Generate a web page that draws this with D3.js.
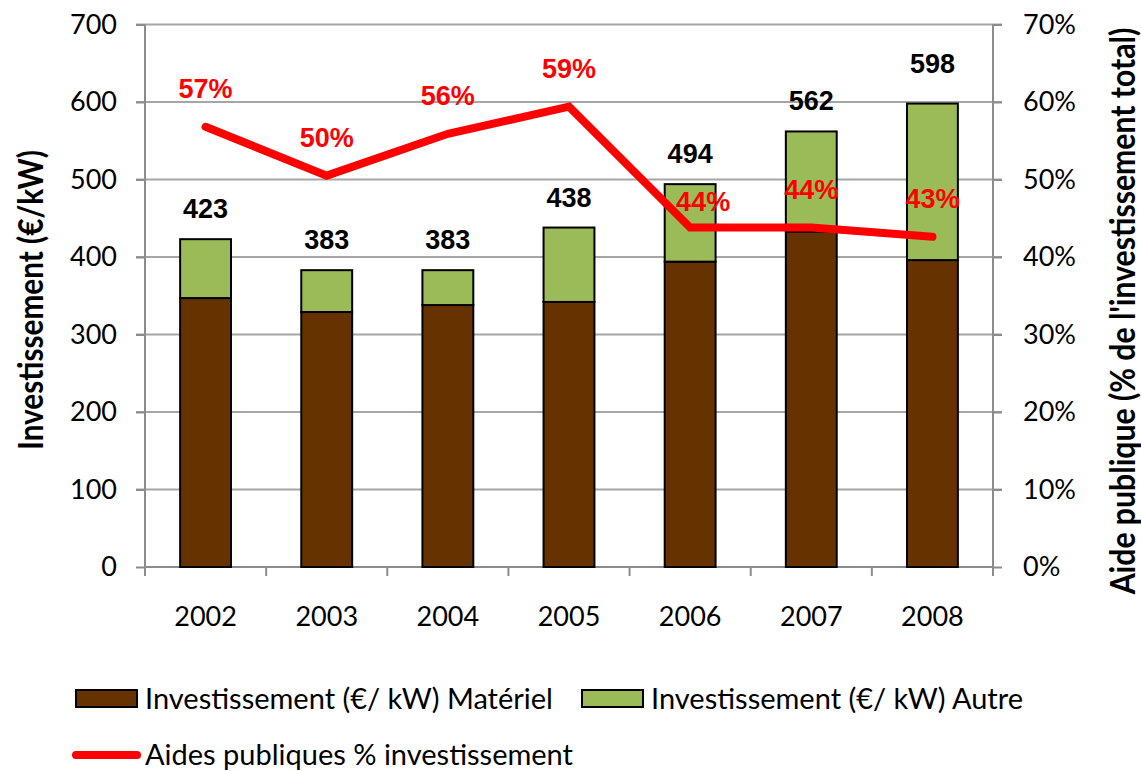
<!DOCTYPE html>
<html>
  <head>
    <meta charset="utf-8">
    <style>
      body { margin: 0; background: #fff; }
      text { font-family: Lato, "Open Sans", sans-serif; }
      .lbl { font-family: "Liberation Sans", Arial, sans-serif; font-weight: bold; }
    </style>
  </head>
  <body>
    <script src="https://d3js.org/d3.v7.min.js"></script>
    <script>
    var width = 1141, height = 771;

    // data
    var years = ["2002", "2003", "2004", "2005", "2006", "2007", "2008"];
    var materiel = [347, 329, 338, 342, 394, 433, 396];
    var autre = [76, 54, 45, 96, 100, 129, 202];
    var totals = [423, 383, 383, 438, 494, 562, 598];
    var aides = [56.8, 50.5, 55.9, 59.4, 43.8, 43.8, 42.6];
    var aideLabels = ["57%", "50%", "56%", "59%", "44%", "44%", "43%"];
    var leftTicks = [0, 100, 200, 300, 400, 500, 600, 700];
    var rightTicks = [0, 10, 20, 30, 40, 50, 60, 70];

    var margin = { left: 145, right: 148, top: 24.5, bottom: 204 };
    var x0 = margin.left, x1 = width - margin.right;
    var y0 = height - margin.bottom, y1 = margin.top;

    var svg = d3.select("body").append("svg")
        .attr("width", width)
        .attr("height", height);

    var x = d3.scaleBand().domain(years).range([x0, x1]);
    var y = d3.scaleLinear().domain([0, 700]).range([y0, y1]);
    var y2 = d3.scaleLinear().domain([0, 70]).range([y0, y1]);

    // gridlines
    svg.append("g").selectAll("line")
      .data(leftTicks.slice(1))
      .enter().append("line")
        .attr("x1", x0 - 9).attr("x2", x1 + 9)
        .attr("y1", function(d){ return y(d); })
        .attr("y2", function(d){ return y(d); })
        .attr("stroke", "#a6a6a6").attr("stroke-width", 2);

    // left + right axes
    var yAxis = d3.axisLeft(y).tickValues(leftTicks).tickSize(9).tickPadding(19);
    var gl = svg.append("g").attr("transform", "translate(" + x0 + ",0)").call(yAxis);
    var yAxisR = d3.axisRight(y2).tickValues(rightTicks).tickSize(9).tickPadding(21)
        .tickFormat(function(d){ return d + "%"; });
    var gr = svg.append("g").attr("transform", "translate(" + x1 + ",0)").call(yAxisR);
    [gl, gr].forEach(function(g){
      g.select(".domain").remove();
      g.selectAll("line").attr("stroke", "#8c8c8c").attr("stroke-width", 2);
      g.selectAll("text").attr("font-size", 27).attr("fill", "#000")
        .attr("font-family", "Lato, sans-serif");
    });
    svg.append("line").attr("x1", x0).attr("x2", x0).attr("y1", y1).attr("y2", y0 + 9)
      .attr("stroke", "#8c8c8c").attr("stroke-width", 2);
    svg.append("line").attr("x1", x1).attr("x2", x1).attr("y1", y1).attr("y2", y0 + 9)
      .attr("stroke", "#8c8c8c").attr("stroke-width", 2);

    // bottom axis
    var xAxis = d3.axisBottom(x).tickSize(0).tickPadding(40);
    var gb = svg.append("g").attr("transform", "translate(0," + y0 + ")").call(xAxis);
    gb.select(".domain").remove();
    gb.selectAll("text").attr("font-size", 27).attr("fill", "#000").attr("font-family", "Lato, sans-serif");
    svg.append("line").attr("x1", x0).attr("x2", x1).attr("y1", y0).attr("y2", y0)
      .attr("stroke", "#8c8c8c").attr("stroke-width", 2);
    svg.append("g").selectAll("line")
      .data(years.slice(1))
      .enter().append("line")
        .attr("x1", function(d){ return x(d); })
        .attr("x2", function(d){ return x(d); })
        .attr("y1", y0).attr("y2", y0 + 9)
        .attr("stroke", "#8c8c8c").attr("stroke-width", 2);

    // stacked bars
    var bw = x.bandwidth() * 0.42;
    var bars = svg.append("g");
    years.forEach(function(yr, i){
      var cx = x(yr) + x.bandwidth() / 2;
      bars.append("rect")
        .attr("x", cx - bw / 2).attr("width", bw)
        .attr("y", y(materiel[i])).attr("height", y(0) - y(materiel[i]))
        .attr("fill", "#663300").attr("stroke", "#000").attr("stroke-width", 2);
      bars.append("rect")
        .attr("x", cx - bw / 2).attr("width", bw)
        .attr("y", y(materiel[i] + autre[i])).attr("height", y(materiel[i]) - y(materiel[i] + autre[i]))
        .attr("fill", "#9bbb59").attr("stroke", "#000").attr("stroke-width", 2);
      // the 2008 label sits a bit higher in the original
      svg.append("text").attr("class", "lbl")
        .attr("x", cx).attr("y", y(totals[i]) - 21 - (i == 6 ? 10 : 0))
        .attr("text-anchor", "middle").attr("font-size", 27)
        .text(totals[i]);
    });

    // line
    var line = d3.line()
      .x(function(d, i){ return x(years[i]) + x.bandwidth() / 2; })
      .y(function(d){ return y2(d); });
    svg.append("path").datum(aides)
      .attr("d", line)
      .attr("fill", "none").attr("stroke", "#ff0000")
      .attr("stroke-width", 8).attr("stroke-linecap", "round");

    aides.forEach(function(v, i){
      var dx = i == 4 ? 13 : 0, dy = i == 4 ? 12 : 0;
      svg.append("text").attr("class", "lbl")
        .attr("x", x(years[i]) + x.bandwidth() / 2 + dx)
        .attr("y", y2(v) - 29 + dy)
        .attr("text-anchor", "middle").attr("font-size", 27)
        .attr("fill", "#ff0000")
        .text(aideLabels[i]);
    });

    // axis titles: tall condensed text, squeezed along its length
    function vtitle(cx, cy, size, len, str){
      var t = svg.append("text")
        .attr("text-anchor", "middle").attr("font-size", size).attr("font-weight", "bold")
        .text(str);
      var s = len / t.node().getComputedTextLength();
      t.attr("transform", "translate(" + cx + "," + cy + ") rotate(-90) scale(" + s + ",1)");
    }
    vtitle(43, 300, 35, 300, "Investissement (€/kW)");
    vtitle(1135, 311, 34, 567, "Aide publique  (% de l'investissement total)");

    // legend
    var lg = svg.append("g");
    lg.append("rect").attr("x", 76).attr("y", 690).attr("width", 61).attr("height", 17)
      .attr("fill", "#663300").attr("stroke", "#000").attr("stroke-width", 2);
    lg.append("text").attr("x", 145).attr("y", 709).attr("font-size", 29)
      .text("Investissement (€/ kW) Matériel");
    lg.append("rect").attr("x", 582).attr("y", 690).attr("width", 61).attr("height", 17)
      .attr("fill", "#9bbb59").attr("stroke", "#000").attr("stroke-width", 2);
    lg.append("text").attr("x", 651).attr("y", 709).attr("font-size", 29)
      .text("Investissement (€/ kW) Autre");
    lg.append("line").attr("x1", 76).attr("x2", 137).attr("y1", 755).attr("y2", 755)
      .attr("stroke", "#ff0000").attr("stroke-width", 8).attr("stroke-linecap", "round");
    lg.append("text").attr("x", 145).attr("y", 765).attr("font-size", 29)
      .text("Aides publiques % investissement");
    </script>
  </body>
</html>
